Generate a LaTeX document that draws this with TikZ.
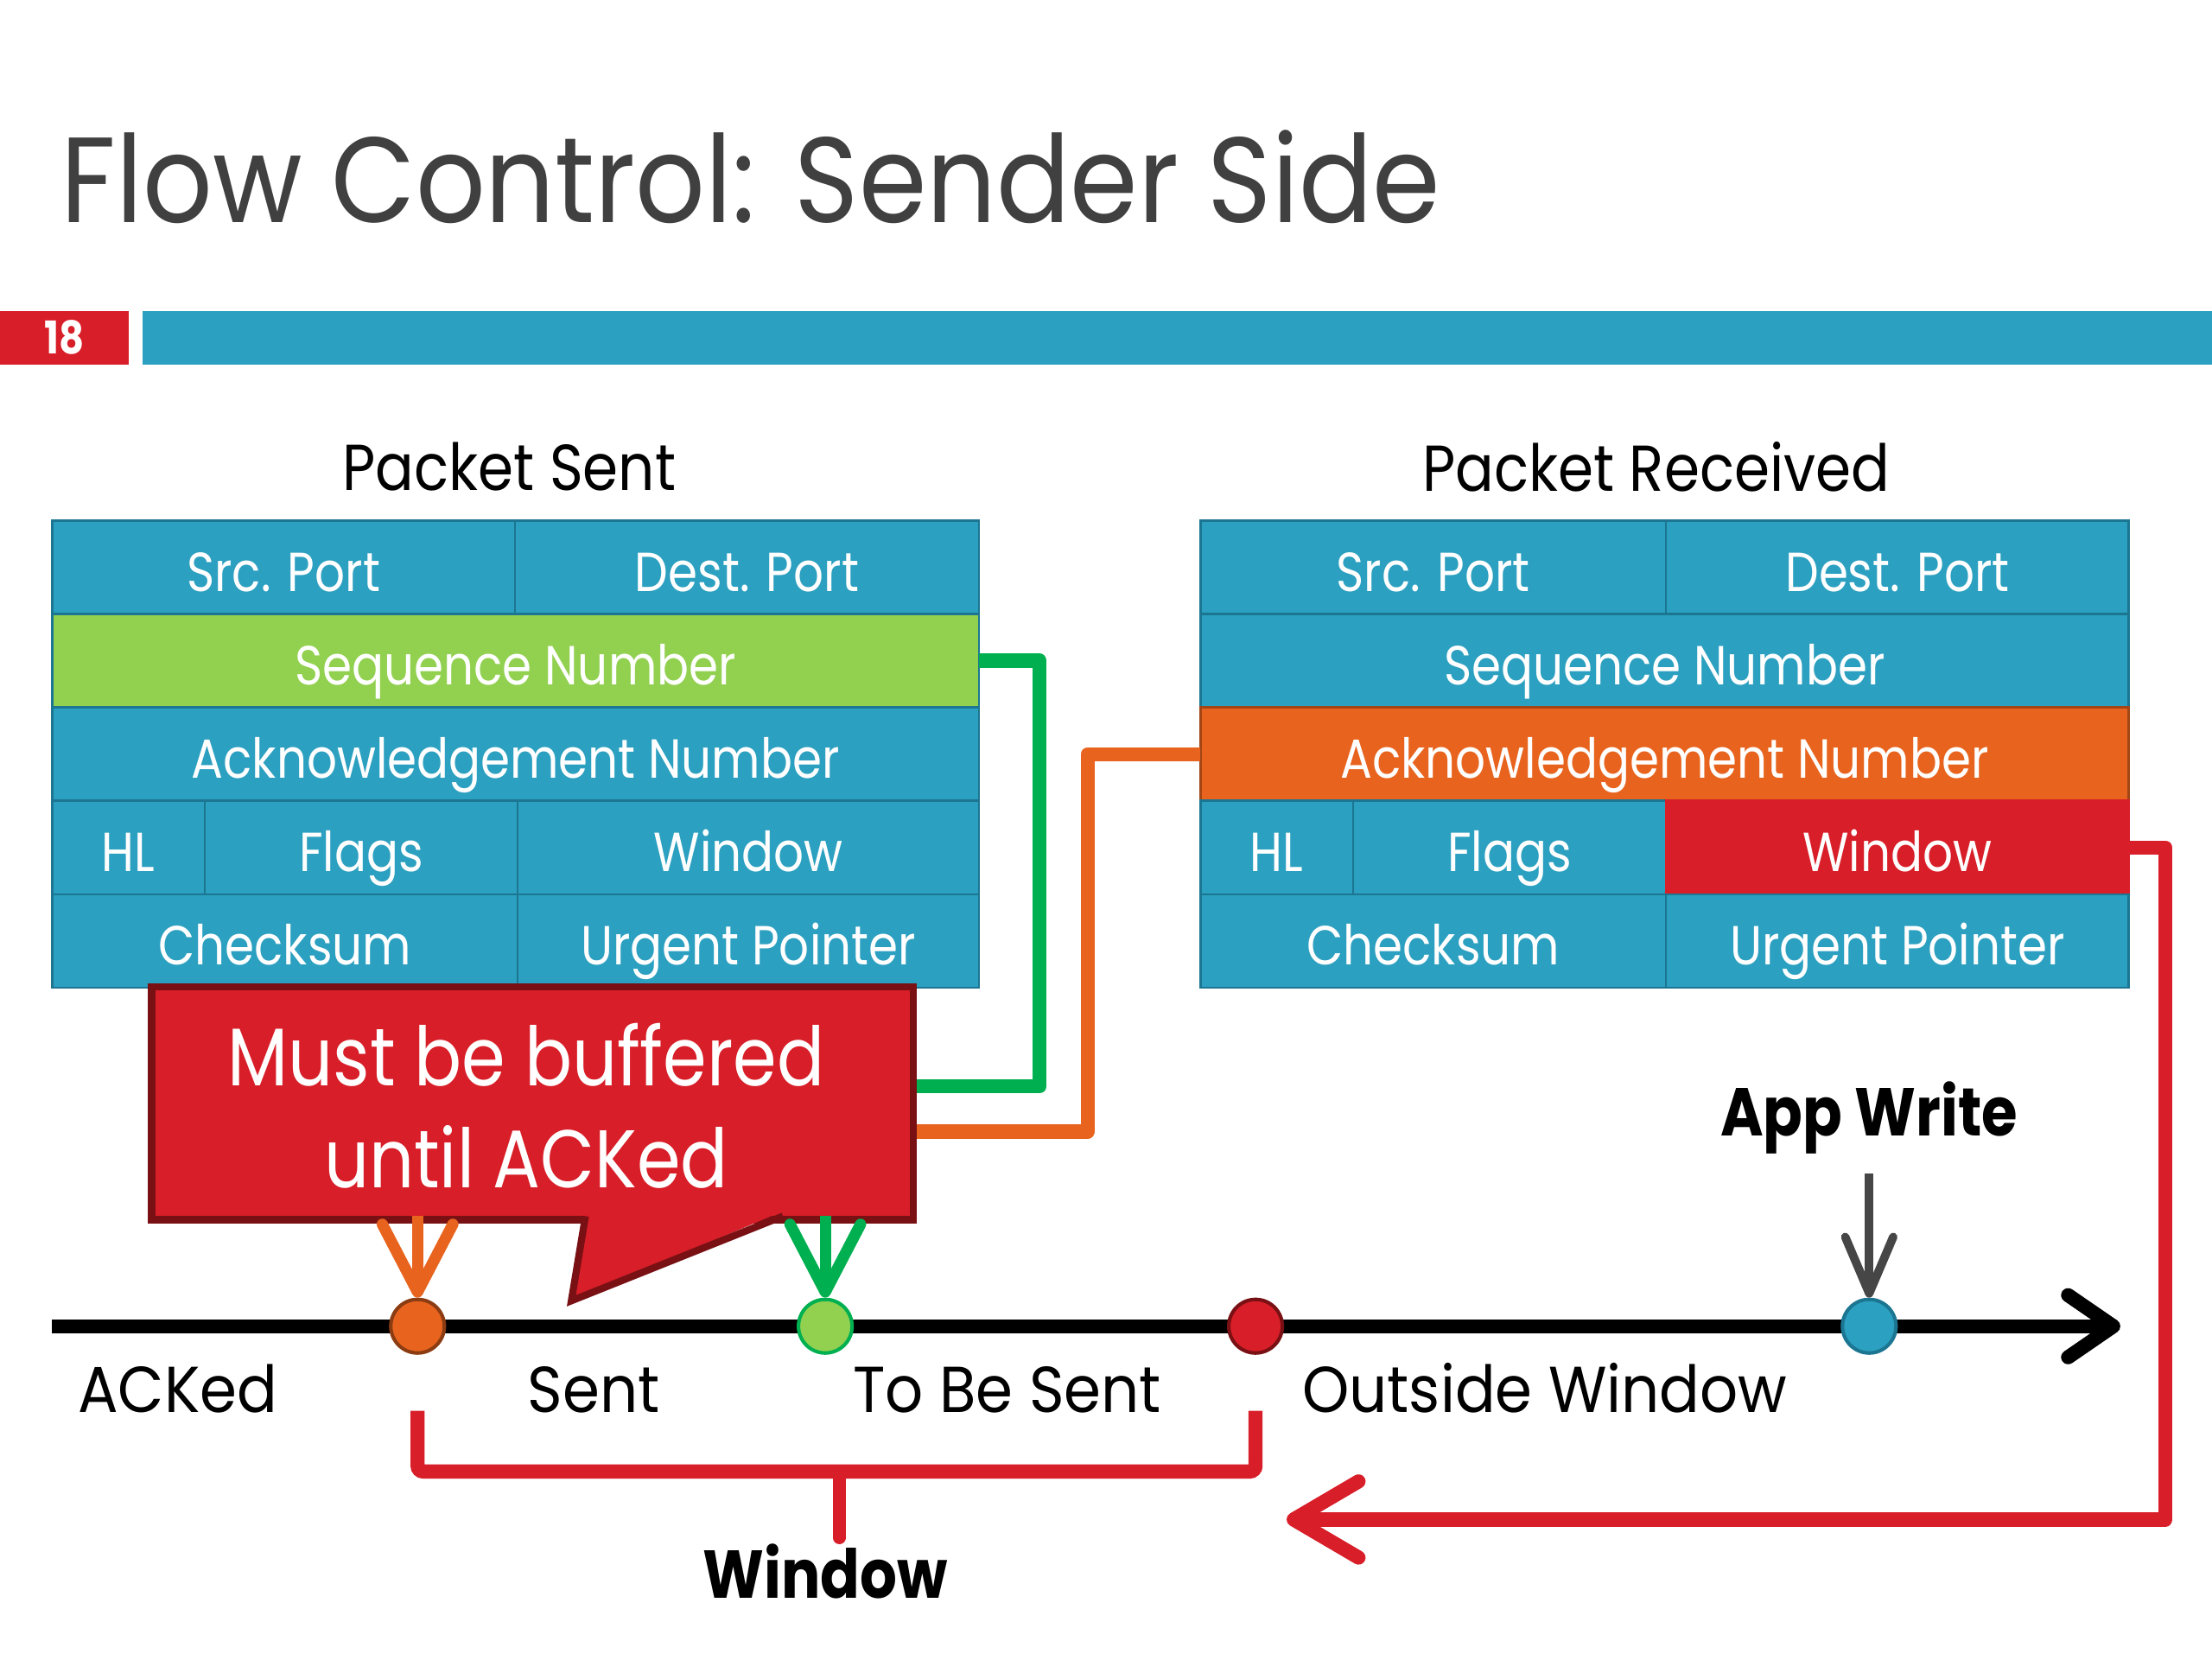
\documentclass[tikz,border=0pt]{standalone}
\usepackage{fontspec}
\setmainfont{Poppins}[FakeStretch=0.86]
\newfontfamily\titlefont{Poppins}[FakeStretch=0.9]
\newfontfamily\headfont{Poppins}[FakeStretch=0.88]
\newfontfamily\tlfont{Poppins}[FakeStretch=0.92]
\usetikzlibrary{arrows.meta}
\definecolor{tblue}{RGB}{44,160,192}
\definecolor{tblueb}{RGB}{28,118,146}
\definecolor{tgreen}{RGB}{146,208,80}
\definecolor{lgreen}{RGB}{0,176,80}
\definecolor{torange}{RGB}{232,100,30}
\definecolor{tred}{RGB}{216,30,40}
\definecolor{dred}{RGB}{120,16,20}
\definecolor{ttitle}{RGB}{64,64,64}
\definecolor{agray}{RGB}{70,70,70}
\begin{document}
\begin{tikzpicture}[x=1pt,y=-1pt,
  cell/.style={draw=tblueb, line width=1.5pt, fill=tblue, text=white, inner sep=0pt, outer sep=0pt,
    anchor=north west, minimum height=66.2pt, text height=34pt, text depth=0pt,
    font=\fontsize{39}{39}\selectfont},
  lbl/.style={inner sep=0pt, font=\fontsize{46}{46}\selectfont\tlfont},
  hlbl/.style={inner sep=0pt, font=\fontsize{46}{46}\selectfont\headfont},
  blbl/.style={inner sep=0pt, font=\fontsize{48}{48}\selectfont\bfseries},
  dot/.style={circle, minimum size=38pt, inner sep=0pt, line width=2.5pt},
  conn/.style={line width=10pt, line join=round},
  barb/.style={-{Straight Barb[length=#1, width=50pt, round]}}
]
\useasboundingbox (0,0) rectangle (1568,1176);
% title
\node[anchor=base west, inner sep=0pt, text=ttitle, font=\fontsize{86}{86}\selectfont\titlefont] (title) at (43,158) {Flow Control: Sender Side};
% header bar
\node[fill=tred, anchor=north west, minimum width=91pt, minimum height=38pt, inner sep=0pt, text=white,
  font=\fontsize{32}{32}\selectfont\bfseries] (num) at (0,220) {18};
\node[fill=tblue, anchor=north west, minimum width=1467pt, minimum height=38pt, inner sep=0pt] (bar) at (101,220) {};
% table headings
\node[hlbl] (hsent) at (361,331) {Packet Sent};
\node[hlbl] (hrecv) at (1174,331) {Packet Received};
% left table
\node[cell, minimum width=328pt] (lsrc) at (37,369) {Src. Port};
\node[cell, minimum width=329pt] (ldst) at (365,369) {Dest. Port};
\node[cell, minimum width=657pt, fill=tgreen] (lseq) at (37,435.2) {Sequence Number};
\node[cell, minimum width=657pt] (lack) at (37,501.4) {Acknowledgement Number};
\node[cell, minimum width=108pt] (lhl) at (37,567.6) {HL};
\node[cell, minimum width=222pt] (lflg) at (145,567.6) {Flags};
\node[cell, minimum width=327pt] (lwin) at (367,567.6) {Window};
\node[cell, minimum width=330pt] (lchk) at (37,633.8) {Checksum};
\node[cell, minimum width=327pt] (lurg) at (367,633.8) {Urgent Pointer};
% right table
\node[cell, minimum width=330pt] (rsrc) at (851,369) {Src. Port};
\node[cell, minimum width=328pt] (rdst) at (1181,369) {Dest. Port};
\node[cell, minimum width=658pt] (rseq) at (851,435.2) {Sequence Number};
\node[cell, minimum width=658pt, fill=torange, draw=torange!70!black] (rack) at (851,501.4) {Acknowledgement Number};
\node[cell, minimum width=108pt] (rhl) at (851,567.6) {HL};
\node[cell, minimum width=222pt] (rflg) at (959,567.6) {Flags};
\node[cell, minimum width=328pt, fill=tred, draw=tred] (rwin) at (1181,567.6) {Window};
\node[cell, minimum width=330pt] (rchk) at (851,633.8) {Checksum};
\node[cell, minimum width=328pt] (rurg) at (1181,633.8) {Urgent Pointer};
% timeline
\coordinate (t0) at (37,940);
\coordinate (t1) at (1503,940);
\draw[line width=10pt, -{Straight Barb[length=32pt, width=44pt, round]}] (t0) -- (t1);
\node[dot, fill=torange, draw=torange!60!black] (d1) at (296,940) {};
\node[dot, fill=tgreen, draw=lgreen] (d2) at (585,940) {};
\node[dot, fill=tred, draw=dred] (d3) at (890,940) {};
\node[dot, fill=tblue, draw=tblueb] (d4) at (1325,940) {};
% callout
\node[fill=tred, draw=dred, line width=5pt, anchor=north west, minimum width=540pt, minimum height=165pt,
  inner sep=0pt] (call) at (105,697) {};
\fill[tred] (414,858) -- (405,922) -- (556,858) -- cycle;
\draw[dred, line width=5pt, line join=miter] (415,862) -- (405,922) -- (555,862);
\node[inner sep=0pt, text=white, align=center, font=\fontsize{58}{72}\selectfont] (calltxt) at (373,784) {Must be buffered\\until ACKed};
% arrows from callout to dots
\coordinate (ca1) at (296,862);
\coordinate (ca2) at (585,862);
\draw[torange, line width=8pt, barb=48pt] (ca1) -- (d1.north);
\draw[lgreen, line width=8pt, barb=48pt] (ca2) -- (d2.north);
% connectors
\coordinate (g1) at (737,770);
\draw[lgreen, conn] (lseq.east) -| (g1) -- (g1 -| call.east);
\coordinate (o1) at (771,802);
\draw[torange, conn] (rack.west) -| (o1) -- (o1 -| call.east);
\coordinate (r1) at (1535,1077);
\coordinate (r2) at (912,1077);
\draw[tred, conn, -{Straight Barb[length=46pt, width=54pt, round]}] (rwin.east) -| (r1) -- (r2);
% app write
\node[blbl] (app) at (1325,792) {App Write};
\coordinate (a0) at (1325,832);
\draw[agray, line width=6pt, -{Straight Barb[length=40pt, width=34pt, round]}] (a0) -- (d4.north);
% labels
\node[lbl, anchor=base west] (lack1) at (55,1001) {ACKed};
\node[lbl, anchor=base] (lsent) at (421,1001) {Sent};
\node[lbl, anchor=base] (ltbs) at (714,1001) {To Be Sent};
\node[lbl, anchor=base west] (lout) at (923,1001) {Outside Window};
% bracket
\coordinate (b0) at (296,1000);
\coordinate (b1) at (890,1000);
\coordinate (bm) at (595,1043);
\coordinate (bs) at (595,1090);
\draw[tred, line width=10pt, rounded corners=4pt] (b0) |- (bm) -| (b1);
\draw[tred, line width=9pt, line cap=round] (bm) -- (bs);
\node[blbl, anchor=base] (lwin2) at (585,1133) {Window};
\end{tikzpicture}
\end{document}
